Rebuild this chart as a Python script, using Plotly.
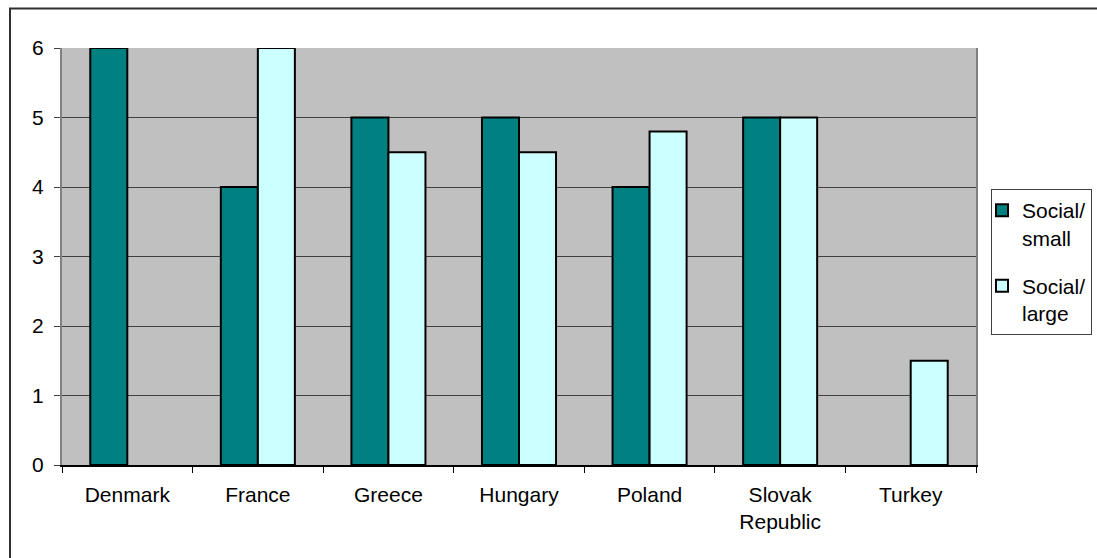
import plotly.graph_objects as go

categories = ["Denmark", "France", "Greece", "Hungary", "Poland", "Slovak<br>Republic", "Turkey"]
social_small = [6, 4, 5, 5, 4, 5, None]
social_large = [None, 6, 4.5, 4.5, 4.8, 5, 1.5]
series_names = ["Social/<br>small", "Social/<br>large"]
y_ticks = [0, 1, 2, 3, 4, 5, 6]

W, H = 1097, 558
L, R, T, B = 62, 121, 48, 93
pw, ph = W - L - R, H - T - B

def px_to_paper_x(px):
    return (px - L) / pw

def px_to_paper_y(py):
    return 1 - (py - T) / ph

FONT = "Liberation Sans, Arial, sans-serif"
fsize = 21

fig = go.Figure()
fig.add_trace(go.Bar(x=categories, y=social_small, name=series_names[0], legendgroup="small",
                     marker=dict(color="#008080", line=dict(color="black", width=2))))
fig.add_trace(go.Bar(x=categories, y=social_large, name=series_names[1], legendgroup="large",
                     marker=dict(color="#CCFFFF", line=dict(color="black", width=2))))

fig.update_layout(
    width=W, height=H,
    margin=dict(l=L, r=R, t=T, b=B, pad=0, autoexpand=False),
    paper_bgcolor="white",
    plot_bgcolor="#C0C0C0",
    barmode="group",
    bargap=0.433,
    bargroupgap=0,
    font=dict(family=FONT, size=fsize, color="black"),
    showlegend=True,
    legend=dict(
        x=px_to_paper_x(991), y=px_to_paper_y(189),
        xanchor="left", yanchor="top",
        bgcolor="white", bordercolor="#404040", borderwidth=1,
        font=dict(family=FONT, size=fsize, color="black"),
        valign="top",
        indentation=-10,
        tracegroupgap=18,
    ),
    xaxis=dict(
        type="category",
        showline=True, linecolor="black", linewidth=1.5,
        ticks="outside", tickson="boundaries", ticklen=6, tickcolor="black", tickwidth=1,
        showgrid=False, zeroline=False,
        ticklabelstandoff=10,
        tickfont=dict(family=FONT, size=fsize, color="black"),
    ),
    yaxis=dict(
        range=[0, 6], tickvals=y_ticks,
        showline=True, linecolor="#808080", linewidth=2, mirror=True,
        ticks="outside", ticklen=6, tickcolor="#404040", tickwidth=1,
        showgrid=True, gridcolor="#404040", gridwidth=1,
        zeroline=False,
        ticklabelstandoff=6,
        tickfont=dict(family=FONT, size=fsize, color="black"),
    ),
    shapes=[dict(type="rect", xref="paper", yref="paper",
                 x0=px_to_paper_x(10), x1=px_to_paper_x(1110),
                 y0=px_to_paper_y(570), y1=px_to_paper_y(8.5),
                 line=dict(color="#303030", width=2), fillcolor="rgba(0,0,0,0)",
                 layer="below")],
)

fig.write_html("out.html", config={"displayModeBar": False},
               post_script="document.body.style.margin='0';document.body.style.overflow='hidden';")
